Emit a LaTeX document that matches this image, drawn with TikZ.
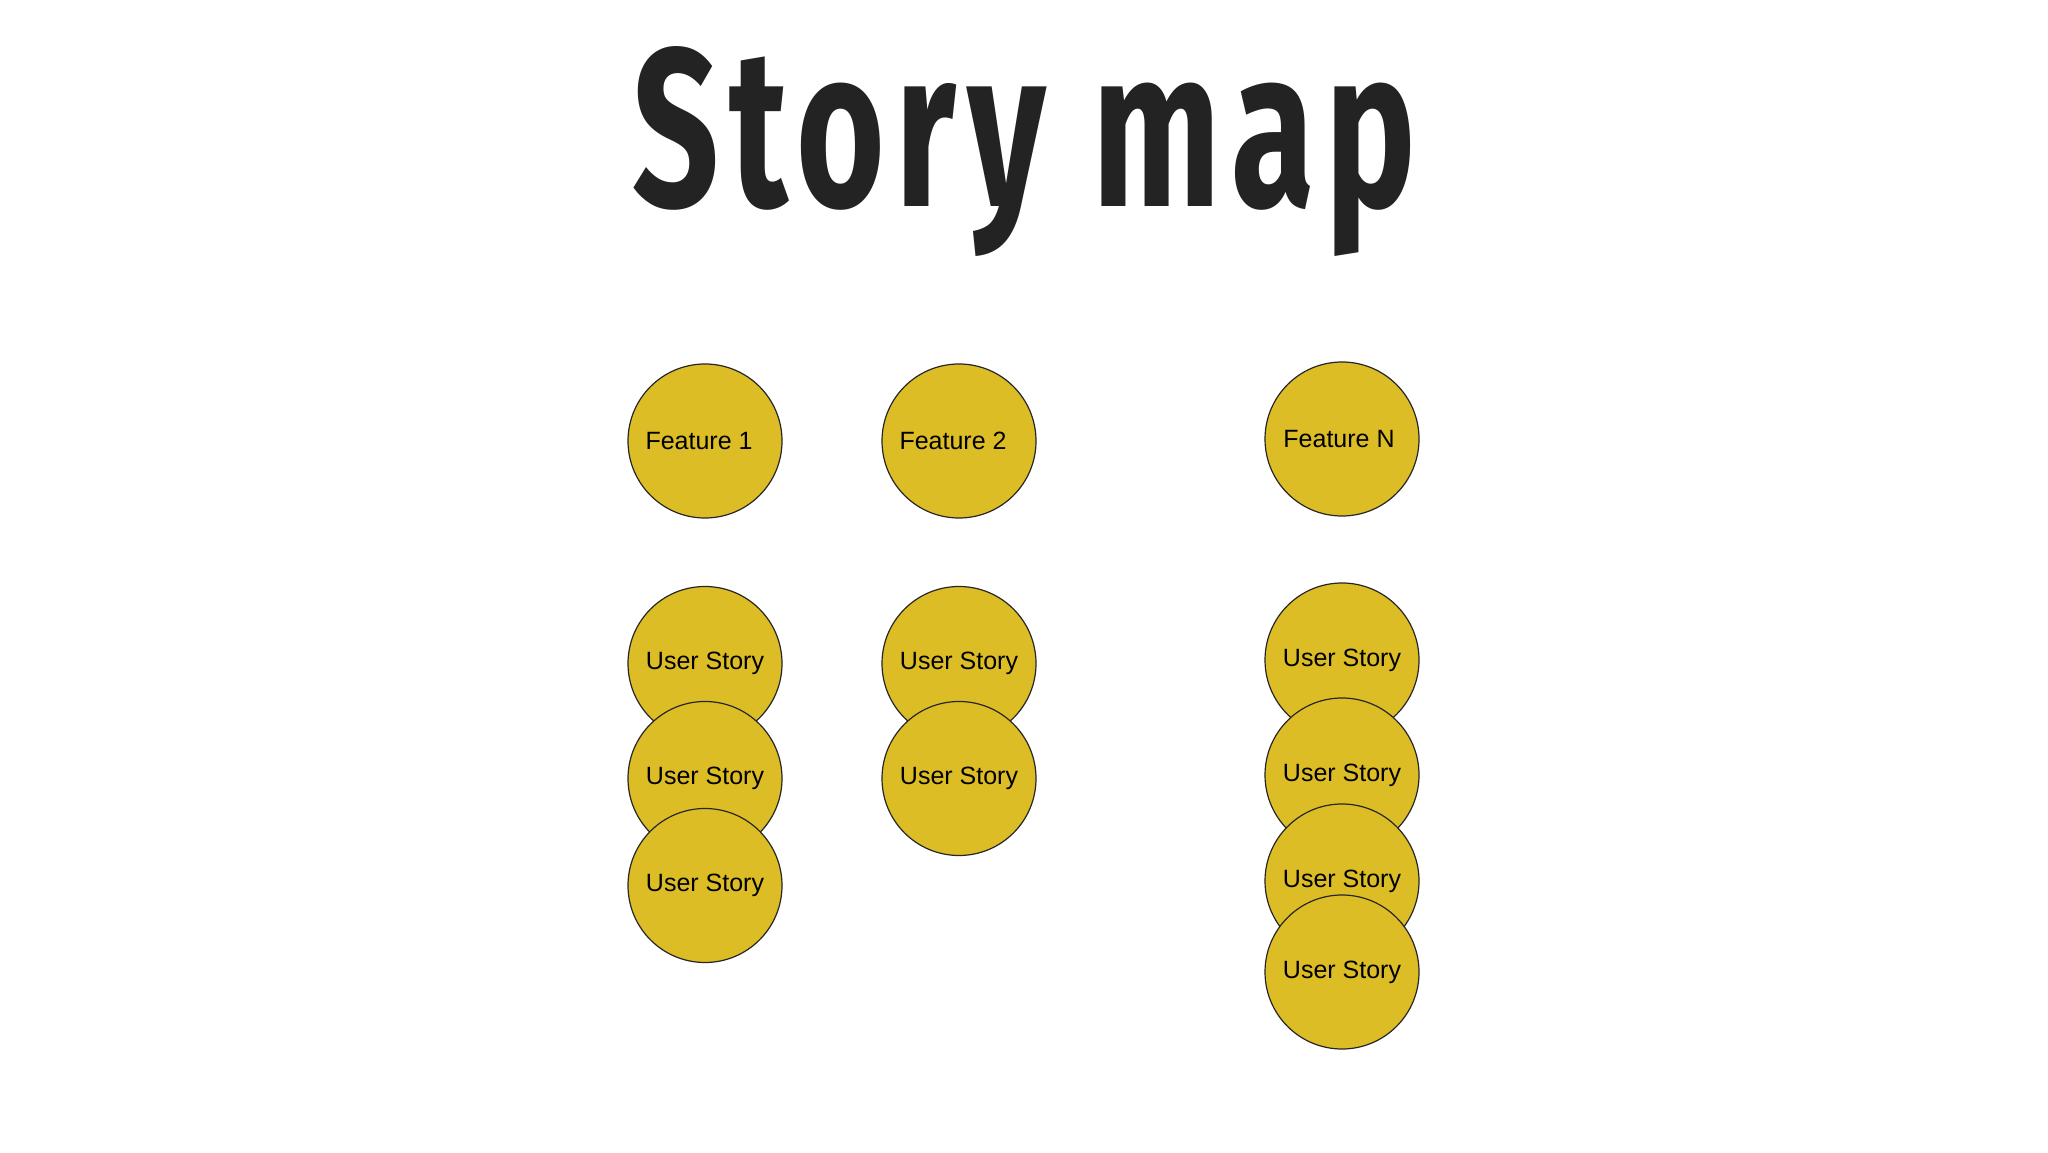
\documentclass[tikz,border=0pt]{standalone}
\usepackage{fontspec}
\setmainfont{Liberation Sans}
\newfontfamily\titlefont[LetterSpace=7]{Fira Sans}
\usepackage{tikz}
\usetikzlibrary{positioning}
\definecolor{storygold}{RGB}{220,189,38}
\definecolor{titleink}{RGB}{35,35,35}
\tikzset{
every node/.style={font=\fontsize{12.5}{15}\selectfont}, % text inside the circles
bubble/.style={circle, draw=black!85, line width=0.6pt, fill=storygold, minimum size=77pt, inner sep=0pt}, % every circle
feature/.style={bubble}, % top row
story/.style={bubble}, % the stacked user stories
}

\begin{document}
\begin{tikzpicture}[x=0.5pt, y=0.5pt]
            \useasboundingbox[fill=white] (0,0) rectangle (2048,1152);

            \node[anchor=base, text=titleink] (title) at (1024,945) {\resizebox{392pt}{80pt}{\titlefont\bfseries Story map}};

            \node[feature] (f1) at (705,711) {Feature 1\kern6pt};
            \node[feature, right of=f1, node distance=127pt] (f2) {Feature 2\kern6pt};
            \node[feature, right of=f2, node distance=191.5pt, yshift=1pt] (fn) {Feature N\kern3pt};

            % stories under feature 1
            \node[story, below of=f1, node distance=111.25pt] (s11) {User Story};
            \node[story, below of=s11, node distance=57.5pt] (s12) {User Story};
            \node[story, below of=s12, node distance=53.5pt] (s13) {User Story};

            % stories under feature 2
            \node[story, below of=f2, node distance=111.25pt] (s21) {User Story};
            \node[story, below of=s21, node distance=57.5pt] (s22) {User Story};

            % stories under feature N
            \node[story, below of=fn, node distance=110.5pt] (sn1) {User Story};
            \node[story, below of=sn1, node distance=57.5pt] (sn2) {User Story};
            \node[story, below of=sn2, node distance=53pt] (sn3) {User Story};
            \node[story, below of=sn3, node distance=45.5pt] (sn4) {User Story};
        \end{tikzpicture}
\end{document}
